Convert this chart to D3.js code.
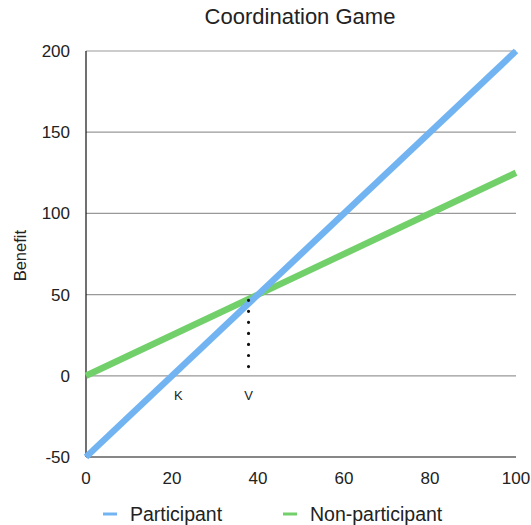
<!DOCTYPE html>
<html><head><meta charset="utf-8">
<script src="https://cdn.jsdelivr.net/npm/d3@7"></script>
<style>body{margin:0;background:#fff;} text{font-family:"Liberation Sans",Arial,Helvetica,sans-serif;fill:#222;}</style>
</head><body>
<svg id="c" width="531" height="525"></svg>
<script>
const title = "Coordination Game";
const yLabel = "Benefit";
const xTicks = [0, 20, 40, 60, 80, 100];
const yTicks = [-50, 0, 50, 100, 150, 200];
const seriesNames = ["Participant", "Non-participant"];
const seriesColors = ["#72b4f2", "#72d06a"];
const participantX = [0, 100];
const participantY = [-50, 200];
const nonParticipantX = [0, 100];
const nonParticipantY = [0, 125];
const markerLabels = ["K", "V"];
const markerX = [21.5, 37.8];
const markerLabelY = -12;
const dottedX = 37.8;
const dottedY = [46.5, 5.7];

const svg = d3.select("#c");
const m = {l: 86, r: 15, t: 51, b: 68};
const W = 531, H = 525;
const x = d3.scaleLinear().domain([0, 100]).range([m.l, W - m.r]);
const y = d3.scaleLinear().domain([-50, 200]).range([H - m.b, m.t]);

// gridlines
svg.append("g").selectAll("line").data(yTicks.filter(d => d > -50)).join("line")
  .attr("x1", x(0)).attr("x2", x(100))
  .attr("y1", d => y(d)).attr("y2", d => y(d))
  .attr("stroke", "#999").attr("stroke-width", 1.2);

// axes lines
svg.append("line").attr("x1", x(0)).attr("x2", x(100)).attr("y1", y(-50)).attr("y2", y(-50))
  .attr("stroke", "#111").attr("stroke-width", 1.2);
svg.append("line").attr("x1", x(0)).attr("x2", x(0)).attr("y1", y(-50)).attr("y2", y(200))
  .attr("stroke", "#111").attr("stroke-width", 1.2);

// tick labels
svg.append("g").selectAll("text").data(yTicks).join("text")
  .attr("x", 70).attr("y", d => y(d)).attr("dy", "0.35em")
  .attr("text-anchor", "end").attr("font-size", 17).text(d => d);
svg.append("g").selectAll("text").data(xTicks).join("text")
  .attr("x", d => x(d)).attr("y", y(-50) + 21).attr("dy", "0.35em")
  .attr("text-anchor", "middle").attr("font-size", 17).text(d => d);

// title & axis label
svg.append("text").attr("x", 300).attr("y", 16).attr("dy", "0.35em").attr("text-anchor", "middle")
  .attr("font-size", 22).text(title);
svg.append("text").attr("transform", `translate(20,${y(74)}) rotate(-90)`).attr("dy", "0.35em")
  .attr("text-anchor", "middle").attr("font-size", 16.5).text(yLabel);

// lines
const line = d3.line().x(d => x(d[0])).y(d => y(d[1]));
const series = [
  participantX.map((v, i) => [v, participantY[i]]),
  nonParticipantX.map((v, i) => [v, nonParticipantY[i]])
];
[1, 0].forEach(i => {
  svg.append("path").datum(series[i]).attr("d", line).attr("fill", "none")
    .attr("stroke", seriesColors[i]).attr("stroke-width", 6.5);
});

// dotted line
const yd1 = y(dottedY[0]), yd2 = y(dottedY[1]);
svg.append("line").attr("x1", x(dottedX)).attr("x2", x(dottedX)).attr("y1", yd1).attr("y2", yd2)
  .attr("stroke", "#111").attr("stroke-width", 3.2).attr("stroke-linecap", "round")
  .attr("stroke-dasharray", `0 ${(yd2 - yd1) / 6}`);

// marker labels
svg.append("g").selectAll("text").data(markerLabels).join("text")
  .attr("x", (d, i) => x(markerX[i])).attr("y", y(markerLabelY)).attr("dy", "0.35em")
  .attr("text-anchor", "middle").attr("font-size", 13).text(d => d);

// legend
const legX = [103, 283];
const lg = svg.append("g").selectAll("g").data(seriesNames).join("g")
  .attr("transform", (d, i) => `translate(${legX[i]},514)`);
lg.append("line").attr("x1", 0).attr("x2", 14).attr("stroke", (d, i) => seriesColors[i]).attr("stroke-width", 3);
lg.append("text").attr("x", 27).attr("dy", "0.35em").attr("font-size", 19.5).text(d => d);
</script>
</body></html>
